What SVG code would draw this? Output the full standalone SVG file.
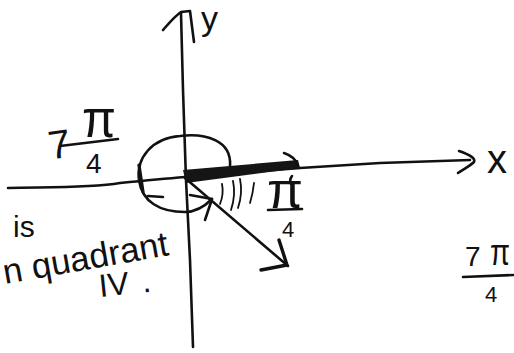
<svg xmlns="http://www.w3.org/2000/svg" width="514" height="353" viewBox="0 0 514 353">
<style>
.ink{fill:none;stroke:#111;stroke-width:2.6;stroke-linecap:round;stroke-linejoin:round}
.thin{fill:none;stroke:#111;stroke-width:1.8;stroke-linecap:round}
.t{font-family:"Liberation Sans","DejaVu Sans",sans-serif;fill:#111}
</style>
<rect width="514" height="353" fill="#fff"/>
<g id="connectors">
  <g id="y-axis">
    <path class="ink" d="M181,13 L183,90 L186,180 L190,260 L193,347"/>
    <path class="ink" d="M163,30 C170,22 175,16 181,12 L190,11 L194,42"/>
  </g>
  <g id="x-axis">
    <path class="ink" d="M8,188 C50,187 90,188 120,183 C140,181 160,179 185,177 L300,168 L380,163 L470,160"/>
    <path class="ink" d="M459,151 C468,154 476,158 474,162 C470,166 462,170 458,173"/>
  </g>
  <g id="angle-arc">
    <path class="ink" d="M230,166 C232,140 205,133 180,136 C152,138 136,158 139,180 C142,202 160,212 185,212 C196,212 205,206 212,199"/>
    <path class="ink" d="M190,195 L212,199 L205,220"/>
    <path class="ink" style="stroke-width:3.2" d="M139,165 L143,192"/>
    <path class="ink" d="M148,196 L163,197"/>
  </g>
  <g id="shading">
    <path d="M183,170 L298,160 L300,168 L186,183 Z" fill="#151515"/>
    <path class="thin" d="M222,184 Q224,194 220,204 M233,181 Q236,195 231,210 M240,179 Q243,193 238,208 M254,183 Q253,193 250,203"/>
    <path class="ink" d="M284,153 Q296,157 298,166 M292,176 Q289,180 291,184"/>
  </g>
  <g id="terminal-ray">
    <path class="ink" d="M185,178 L288,266"/>
    <path class="ink" style="stroke-width:3.4" d="M279,240 L287,265 L261,270"/>
  </g>
</g>
<g id="label-y"><text class="t" x="201" y="30" font-size="34">y</text></g>
<g id="label-x"><text class="t" x="487" y="173" font-size="40">x</text></g>
<g id="label-7pi4-left">
  <text class="t" x="49" y="158" font-size="40" transform="rotate(-8 60 150)">7</text>
  <text class="t" x="82" y="137" font-size="54" textLength="34" lengthAdjust="spacingAndGlyphs">π</text>
  <path class="ink" d="M60,146 L118,139"/>
  <text class="t" x="86" y="173" font-size="28">4</text>
</g>
<g id="label-pi4">
  <text class="t" x="267" y="208" font-size="50" textLength="36" lengthAdjust="spacingAndGlyphs">π</text>
  <path class="ink" d="M268,210 L302,209"/>
  <text class="t" x="288" y="237" font-size="22" text-anchor="middle">4</text>
</g>
<g id="label-7pi4-right">
  <text class="t" x="465" y="266" font-size="28">7</text>
  <text class="t" x="490" y="265" font-size="36" textLength="20" lengthAdjust="spacingAndGlyphs">π</text>
  <path class="ink" d="M463,277 L513,275"/>
  <text class="t" x="485" y="302" font-size="22">4</text>
</g>
<g id="note">
  <text class="t" x="13" y="237" font-size="30">is</text>
  <text class="t" x="5" y="284" font-size="35" transform="rotate(-10 5 284)">n quadrant</text>
  <text class="t" x="100" y="297" font-size="32" transform="rotate(-6 100 297)">IV<tspan dx="16">.</tspan></text>
</g>
</svg>
